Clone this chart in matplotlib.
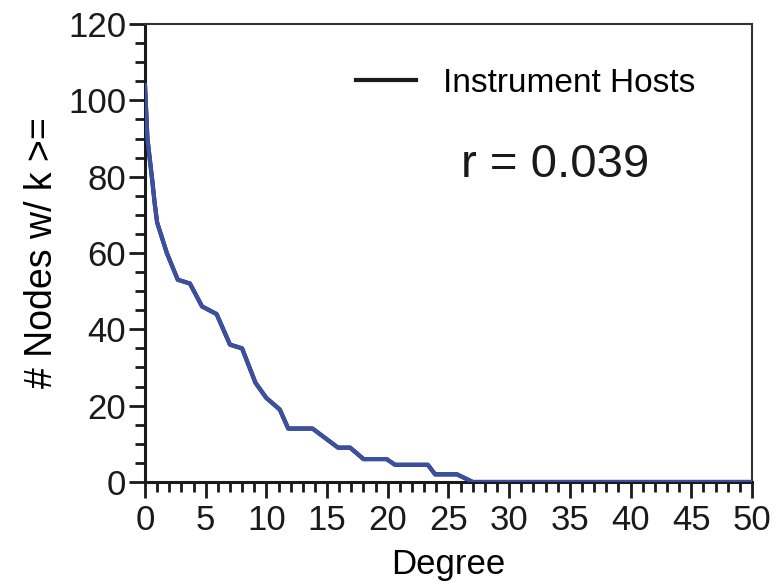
import matplotlib
matplotlib.use("Agg")
import matplotlib.pyplot as plt
from matplotlib.ticker import MultipleLocator

# degree vs number of nodes with degree >= k
degree = [0, 0.2, 0.6, 0.8, 1.0, 1.8, 2.7, 3.7, 4.7, 5.9, 7.0, 8.0, 9.1, 10.0,
          11.1, 11.8, 13.8, 15.9, 16.9, 18.0, 19.9, 20.6, 23.3, 23.9, 25.7, 27.0, 50]
nodes = [104, 90, 79, 73, 68, 60, 53, 52, 46, 44, 36, 35, 26, 22,
         19, 14, 14, 9, 9, 6, 6, 4.5, 4.5, 2, 2, 0, 0]

series_label = "Instrument Hosts"
r_text = "r = 0.039"

plt.rcParams['font.family'] = ['Liberation Sans', 'DejaVu Sans']

fig = plt.figure(figsize=(7.82, 5.86), dpi=100)
ax = fig.add_axes([0.1854, 0.1775, 0.7762, 0.7815])

# black series underneath, blue trace on top
ax.plot(degree, nodes, color='#1a1a1a', lw=3.0, label=series_label, zorder=2)
ax.plot(degree, nodes, color='#3b4fa3', lw=3.0, zorder=3)

ax.set_xlim(0, 50)
ax.set_ylim(0, 120)
ax.xaxis.set_major_locator(MultipleLocator(5))
ax.xaxis.set_minor_locator(MultipleLocator(1))
ax.yaxis.set_major_locator(MultipleLocator(20))
ax.yaxis.set_minor_locator(MultipleLocator(5))

ax.tick_params(which='major', direction='out', length=11.5, width=2, labelsize=25,
               colors='#1a1a1a')
ax.tick_params(which='minor', direction='out', length=7, width=2, colors='#1a1a1a')
ax.tick_params(axis='x', which='major', pad=4)
ax.tick_params(axis='y', which='major', pad=2)

for side in ['left', 'bottom']:
    ax.spines[side].set_linewidth(2.2)
    ax.spines[side].set_color('#1a1a1a')
for side in ['top', 'right']:
    ax.spines[side].set_linewidth(1.5)
    ax.spines[side].set_color('#333333')

ax.set_xlabel('Degree', fontsize=25, labelpad=8)
ax.set_ylabel('# Nodes w/ k >=', fontsize=27, labelpad=6)

ax.legend(loc='center right', bbox_to_anchor=(0.906, 0.871), frameon=False,
          fontsize=24, handlelength=1.8, handletextpad=0.8,
          borderaxespad=0, borderpad=0)
ax.text(0.675, 0.692, r_text, transform=ax.transAxes, fontsize=34,
        ha='center', va='center', color='#1a1a1a')

fig.savefig('out.png', dpi=100)
